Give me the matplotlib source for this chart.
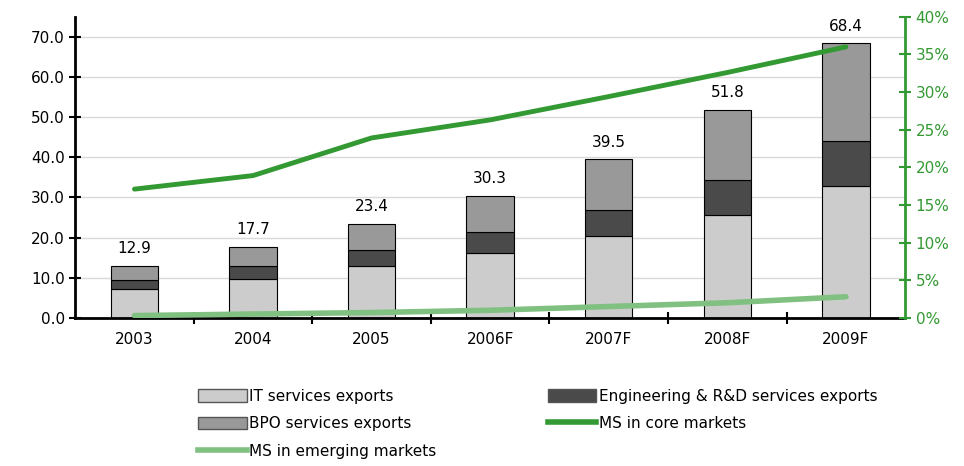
import numpy as np
import matplotlib.pyplot as plt
from matplotlib.patches import Patch
from matplotlib.lines import Line2D

years = ['2003', '2004', '2005', '2006F', '2007F', '2008F', '2009F']
it_exports = [7.2, 9.7, 13.0, 16.1, 20.3, 25.7, 32.9]
eng_exports = [2.3, 3.3, 3.9, 5.2, 6.6, 8.6, 11.1]
bpo_exports = [3.4, 4.7, 6.5, 9.0, 12.6, 17.5, 24.4]
totals = [12.9, 17.7, 23.4, 30.3, 39.5, 51.8, 68.4]
ms_core = [17.1, 18.9, 23.9, 26.3, 29.4, 32.6, 36.0]
ms_emerging = [0.3, 0.5, 0.7, 1.0, 1.5, 2.0, 2.8]

c_it = '#cccccc'
c_eng = '#4a4a4a'
c_bpo = '#999999'
c_core = '#339933'
c_emg = '#80c080'

plt.rcParams['font.family'] = 'DejaVu Sans'
plt.rcParams['font.size'] = 10

fig = plt.figure(figsize=(9.64, 4.66), dpi=100)
ax = fig.add_axes([0.078, 0.318, 0.861, 0.646])

x = np.arange(len(years))
w = 0.4
it = np.array(it_exports)
eng = np.array(eng_exports)
bpo = np.array(bpo_exports)
ax.bar(x, it, w, color=c_it, edgecolor='black', linewidth=0.8, zorder=2)
ax.bar(x, eng, w, bottom=it, color=c_eng, edgecolor='black', linewidth=0.8, zorder=2)
ax.bar(x, bpo, w, bottom=it + eng, color=c_bpo, edgecolor='black', linewidth=0.8, zorder=2)

# total above each stack
for xi, t in zip(x, totals):
    ax.annotate(f'{t:.1f}', (xi, t), xytext=(0, 7), textcoords='offset points',
                ha='center', va='bottom', fontsize=11)

ax.set_xlim(-0.5, len(years) - 0.5)
ax.set_ylim(0, 75)
ax.set_yticks(np.arange(0, 71, 10))
ax.set_yticklabels([f'{v:.1f}' for v in np.arange(0, 71, 10)], fontsize=11)
ax.yaxis.grid(True, color='#d9d9d9', linewidth=1, zorder=0)
ax.set_axisbelow(True)
ax.set_xticks(x)
ax.set_xticklabels(years, fontsize=11)
ax.tick_params(axis='x', length=0, pad=10)
ax.set_xticks(np.arange(0.5, len(years) - 0.5, 1), minor=True)
ax.tick_params(axis='x', which='minor', direction='inout', length=8, width=1.5)
ax.tick_params(axis='y', direction='inout', length=8, width=1.5)
ax.spines['top'].set_visible(False)
ax.spines['right'].set_visible(False)
ax.spines['left'].set_linewidth(2)
ax.spines['bottom'].set_linewidth(2)

# market share lines on the right-hand axis
ax2 = ax.twinx()
ax2.plot(x, ms_core, color=c_core, linewidth=3.5, solid_capstyle='round', zorder=3)
ax2.plot(x, ms_emerging, color=c_emg, linewidth=4, solid_capstyle='round', zorder=3)
ax2.set_ylim(0, 40)
ax2.set_yticks(np.arange(0, 41, 5))
ax2.set_yticklabels([f'{v}%' for v in range(0, 41, 5)], fontsize=11, color=c_core)
ax2.tick_params(axis='y', direction='inout', length=8, width=1.5, color=c_core)
for s in ['top', 'left', 'bottom']:
    ax2.spines[s].set_visible(False)
ax2.spines['right'].set_color(c_core)
ax2.spines['right'].set_linewidth(2)

handles = [
    Patch(facecolor=c_it, edgecolor='#555555', label='IT services exports'),
    Patch(facecolor=c_bpo, edgecolor='#555555', label='BPO services exports'),
    Line2D([], [], color=c_emg, linewidth=4, label='MS in emerging markets'),
    Patch(facecolor=c_eng, edgecolor='#555555', label='Engineering & R&D services exports'),
    Line2D([], [], color=c_core, linewidth=4, label='MS in core markets'),
]
fig.legend(handles=handles, loc='upper left', bbox_to_anchor=(0.205, 0.166),
           ncol=2, frameon=False, fontsize=11, handlelength=3.2, handleheight=0.9,
           handletextpad=0.15, columnspacing=7.3, labelspacing=0.82,
           borderaxespad=0, borderpad=0)

fig.savefig('out.png', dpi=100)
